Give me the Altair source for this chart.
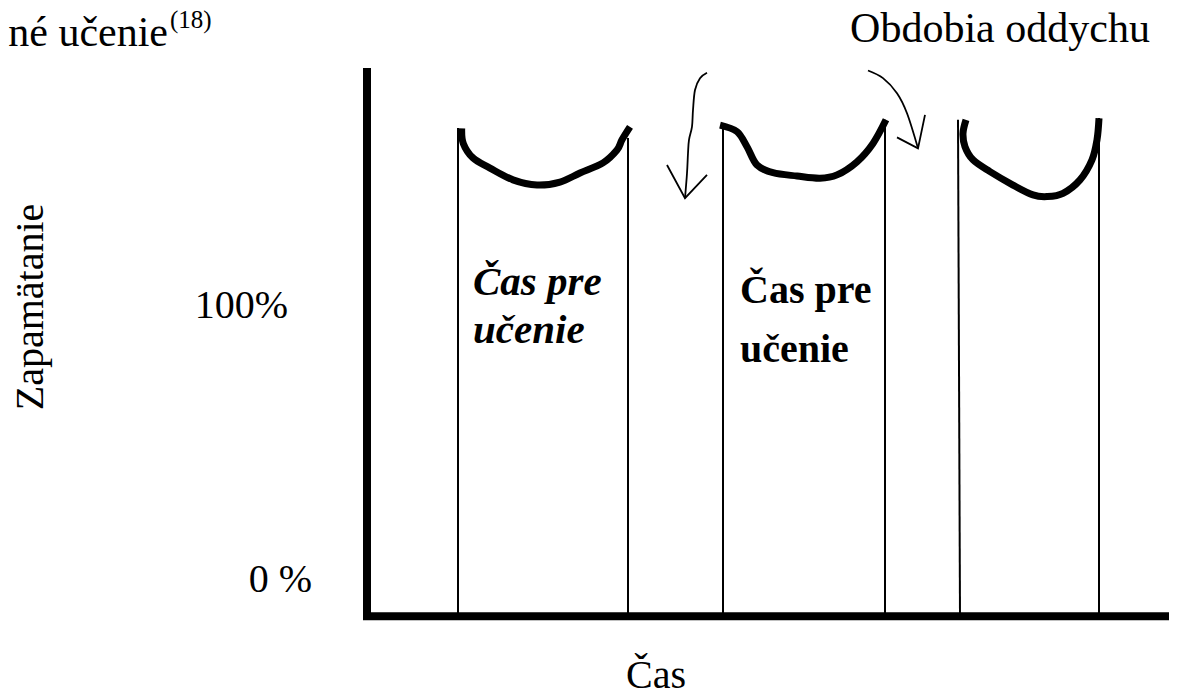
import altair as alt
import pandas as pd

# ---------------- data (time units, retention in %) ----------------
# frame of the diagram
axis_v_t = [0.0]
axis_v_top = [186.1]
axis_v_bottom = [-15.3]
axis_h_y = [-13.9]
axis_h_start = [-0.4]
axis_h_end = [80.2]

# boundaries of the study periods (thin vertical lines)
bound_t_top = [9.1, 26.1, 35.6, 51.8, 59.1, 73.2]
bound_t_bottom = [9.1, 26.1, 35.6, 51.8, 59.3, 73.2]
bound_y_top = [164.2, 160.6, 164.6, 167.2, 167.2, 167.9]
bound_y_bottom = [-13.9, -13.9, -13.9, -13.9, -13.9, -13.9]

# retention curves during each study period
curve1_t = [9.47, 9.63, 10.6, 12.3, 14.6, 17.0, 19.3, 21.3, 23.6, 25.0, 25.5, 26.3]
curve1_y = [164.1, 158.6, 153.3, 149.6, 145.3, 143.4, 144.5, 147.8, 151.5, 156.2, 159.9, 164.6]
curve2_t = [35.3, 37.0, 38.0, 39.0, 40.6, 43.0, 45.3, 47.0, 49.0, 50.6, 51.9]
curve2_y = [165.3, 162.9, 157.4, 150.7, 147.9, 146.7, 145.9, 147.1, 151.9, 158.6, 167.2]
curve3_t = [59.9, 59.6, 59.8, 60.6, 62.3, 64.6, 66.6, 68.0, 69.6, 71.3, 72.5, 73.0, 73.2]
curve3_y = [167.2, 162.3, 157.4, 152.6, 148.3, 143.4, 139.8, 139.2, 140.4, 145.3, 152.6, 159.9, 167.8]

# arrows pointing at the rest periods
arrow1_t = [34.0, 33.3, 32.8, 32.6, 32.5, 32.2, 32.1, 32.0, 31.8]
arrow1_y = [184.4, 182.4, 178.1, 170.8, 164.7, 159.9, 155.0, 147.7, 138.6]
head1_t = [30.0, 31.8, 34.0]
head1_y = [150.7, 138.6, 147.1]
arrow2_t = [50.1, 51.6, 53.0, 54.0, 55.1]
arrow2_y = [185.2, 182.4, 176.9, 169.6, 156.8]
head2_t = [53.0, 55.1, 55.8]
head2_y = [160.8, 156.8, 169.0]

# texts
title_text = ["ené učenie"]
title_t = [-19.9]
title_y = [194.2]
sup_text = ["(18)"]
sup_t = [-19.7]
sup_y = [200.7]
rest_text = ["Obdobia oddychu"]
rest_t = [63.3]
rest_y = [195.6]
ylab_text = ["Zapamätanie"]
ylab_t = [-32.4]
ylab_y = [98.9]
tick_text = ["100%", "0 %"]
tick_t = [-7.9, -5.5]
tick_y = [94.9, -5.1]
xlab_text = ["Čas"]
xlab_t = [28.9]
xlab_y = [-40.0]
study1_text = ["Čas pre", "učenie"]
study1_t = [10.6, 10.6]
study1_y = [103.3, 85.8]
study2_text = ["Čas pre", "učenie"]
study2_t = [37.3, 37.3]
study2_y = [100.4, 78.8]

# ---------------- chart ----------------
XDOM = [-35.9, 80.2]
YDOM = [-40.1, 208.0]
FONT = "Liberation Serif"


def X(field="t"):
    return alt.X(f"{field}:Q", scale=alt.Scale(domain=XDOM, nice=False, zero=False), axis=None)


def Y(field="y"):
    return alt.Y(f"{field}:Q", scale=alt.Scale(domain=YDOM, nice=False, zero=False), axis=None)


def series(parts):
    rows = []
    for name, ts, ys in parts:
        for i, (t, y) in enumerate(zip(ts, ys)):
            rows.append({"id": name, "i": i, "t": t, "y": y})
    return pd.DataFrame(rows)


frame_v = pd.DataFrame({"t": axis_v_t, "y": axis_v_top, "y2": axis_v_bottom})
frame_h = pd.DataFrame({"t": axis_h_start, "t2": axis_h_end, "y": axis_h_y})
bounds = pd.DataFrame({"t": bound_t_top, "t2": bound_t_bottom, "y": bound_y_top, "y2": bound_y_bottom})

curves = series([("c1", curve1_t, curve1_y), ("c2", curve2_t, curve2_y), ("c3", curve3_t, curve3_y)])
shafts = series([("a1", arrow1_t, arrow1_y), ("a2", arrow2_t, arrow2_y)])
heads = series([("h1", head1_t, head1_y), ("h2", head2_t, head2_y)])

layers = []

layers.append(
    alt.Chart(frame_v).mark_rule(color="black", strokeWidth=8, strokeCap="butt")
    .encode(x=X(), y=Y(), y2="y2:Q")
)
layers.append(
    alt.Chart(frame_h).mark_rule(color="black", strokeWidth=8, strokeCap="butt")
    .encode(x=X(), x2="t2:Q", y=Y())
)
layers.append(
    alt.Chart(bounds).mark_rule(color="black", strokeWidth=2)
    .encode(x=X(), x2="t2:Q", y=Y(), y2="y2:Q")
)
layers.append(
    alt.Chart(curves).mark_line(color="black", strokeWidth=7, interpolate="cardinal", strokeCap="butt")
    .encode(x=X(), y=Y(), detail="id:N", order="i:Q")
)
layers.append(
    alt.Chart(shafts).mark_line(color="black", strokeWidth=1.8, interpolate="cardinal")
    .encode(x=X(), y=Y(), detail="id:N", order="i:Q")
)
layers.append(
    alt.Chart(heads).mark_line(color="black", strokeWidth=1.8, interpolate="linear", strokeJoin="miter")
    .encode(x=X(), y=Y(), detail="id:N", order="i:Q")
)


def text_layer(texts, ts, ys, **kw):
    df = pd.DataFrame({"label": texts, "t": ts, "y": ys})
    return alt.Chart(df).mark_text(font=FONT, color="black", baseline="alphabetic", **kw).encode(
        x=X(), y=Y(), text="label:N"
    )


layers.append(text_layer(title_text, title_t, title_y, fontSize=42, align="right"))
layers.append(text_layer(sup_text, sup_t, sup_y, fontSize=25, align="left"))
layers.append(text_layer(rest_text, rest_t, rest_y, fontSize=42, align="center"))
layers.append(text_layer(ylab_text, ylab_t, ylab_y, fontSize=40, align="center", angle=270))
layers.append(text_layer(tick_text, tick_t, tick_y, fontSize=40, align="right"))
layers.append(text_layer(xlab_text, xlab_t, xlab_y, fontSize=40, align="center"))
layers.append(text_layer(study1_text, study1_t, study1_y, fontSize=41, align="left",
                         fontWeight="bold", fontStyle="italic"))
layers.append(text_layer(study2_text, study2_t, study2_y, fontSize=40, align="left",
                         fontWeight="bold"))

chart = (
    alt.layer(*layers)
    .properties(width=1161, height=680, autosize=alt.AutoSizeParams(type="none"), padding=0)
    .configure_view(stroke=None)
)

chart.save("out.html", embed_options={"renderer": "svg", "actions": False})
